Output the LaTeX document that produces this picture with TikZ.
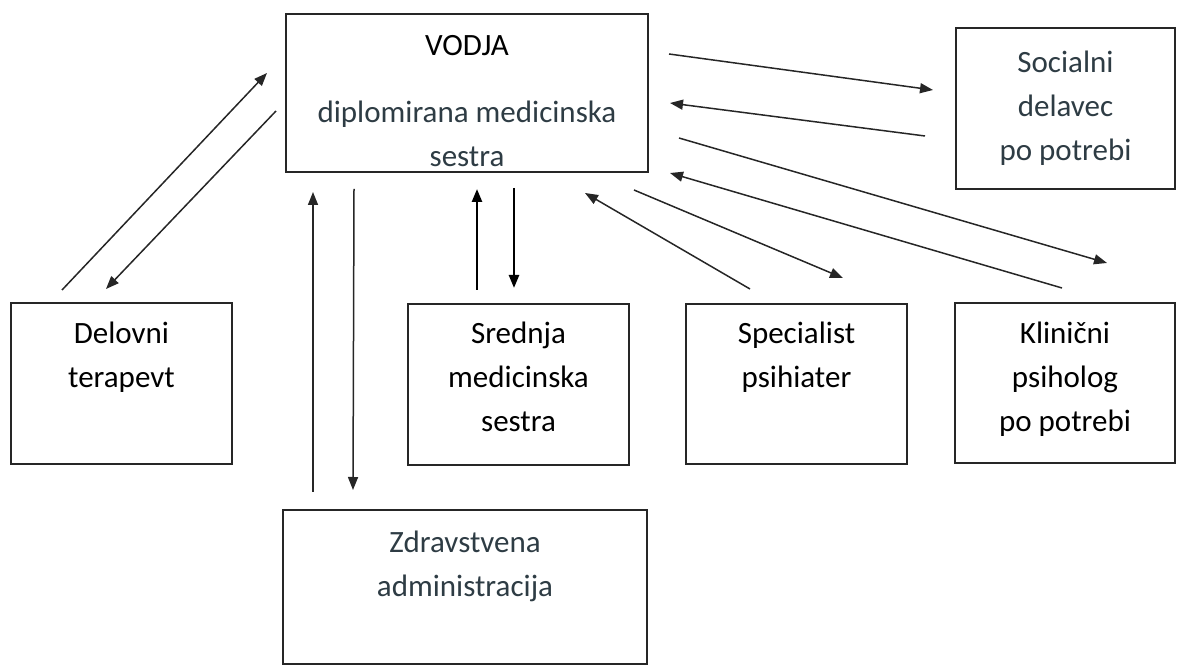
\documentclass[tikz,border=0pt]{standalone}
\usepackage{fontspec}
\setmainfont{Carlito}
\usetikzlibrary{arrows.meta,positioning}
\definecolor{slate}{RGB}{46,60,68}
\begin{document}
\begin{tikzpicture}[>={Triangle[length=6.5pt,width=5pt]},x=0.5pt,y=-0.5pt,
		box/.style={draw=black!85,line width=1pt,inner sep=0pt,outer sep=0pt,anchor=north west},
		txt/.style={align=center,inner sep=0pt,font=\fontsize{15.5}{22}\selectfont},
		arr/.style={->,line width=0.75pt,draw=black!85},
		thickarr/.style={->,line width=1.2pt}]
	\useasboundingbox (0,0) rectangle (1177,667);
	% okvirji
	\node[box,minimum width=181pt,minimum height=79pt] (vodja) at (286,14) {};
	\node[box,minimum width=109.5pt,minimum height=80.5pt] (socialni) at (956,28) {};
	\node[box,minimum width=110.5pt,minimum height=80.5pt] (delovni) at (11,303) {};
	\node[box,minimum width=110.5pt,minimum height=80.5pt] (srednja) at (408,304) {};
	\node[box,minimum width=110.5pt,minimum height=80pt] (specialist) at (686,304) {};
	\node[box,minimum width=110pt,minimum height=80pt] (klinicni) at (955,303) {};
	\node[box,minimum width=182pt,minimum height=77pt] (zdrav) at (283,510) {};
	% besedila
	\node[txt,below=10.5pt of vodja.north] (vodjaT) {VODJA\\[11.5pt]{\color{slate}diplomirana medicinska}\\{\color{slate}sestra}};
	\node[txt,text=slate,below=11.5pt of socialni.north] (socialniT) {Socialni\\delavec\\po potrebi};
	\node[txt,below=9.5pt of delovni.north] (delovniT) {Delovni\\terapevt};
	\node[txt,below=9pt of srednja.north] (srednjaT) {Srednja\\medicinska\\sestra};
	\node[txt,below=9pt of specialist.north] (specialistT) {Specialist\\psihiater};
	\node[txt,below=9.5pt of klinicni.north] (klinicniT) {Klinični\\psiholog\\po potrebi};
	\node[txt,text=slate,below=10.5pt of zdrav.north] (zdravT) {Zdravstvena\\administracija};
	% puscice
	\draw[arr] ([shift={(51,-13)}]delovni.north west) -- ([shift={(-19,59)}]vodja.north west);
	\draw[arr] ([shift={(-10,97)}]vodja.north west) -- ([shift={(95,-14)}]delovni.north west);
	\draw[arr] ([shift={(30,-18)}]zdrav.north west) -- ([shift={(27,20)}]vodja.south west);
	\draw[arr] ([shift={(68,17)}]vodja.south west) -- ([shift={(70,-20)}]zdrav.north west);
	\draw[thickarr] ([shift={(69,-14)}]srednja.north west) -- ([shift={(191,17)}]vodja.south west);
	\draw[thickarr] ([shift={(228,16)}]vodja.south west) -- ([shift={(106,-16)}]srednja.north west);
	\draw[arr] ([shift={(64,-15)}]specialist.north west) -- ([shift={(-63,21)}]vodja.south east);
	\draw[arr] ([shift={(-14,18)}]vodja.south east) -- ([shift={(157,-26)}]specialist.north west);
	\draw[arr] ([shift={(21,40)}]vodja.north east) -- ([shift={(-23,62)}]socialni.north west);
	\draw[arr] ([shift={(-31,108)}]socialni.north west) -- ([shift={(22,89)}]vodja.north east);
	\draw[arr] ([shift={(31,124)}]vodja.north east) -- ([shift={(152,-40)}]klinicni.north west);
	\draw[arr] ([shift={(107,-15)}]klinicni.north west) -- ([shift={(22,1)}]vodja.south east);
\end{tikzpicture}
\end{document}
